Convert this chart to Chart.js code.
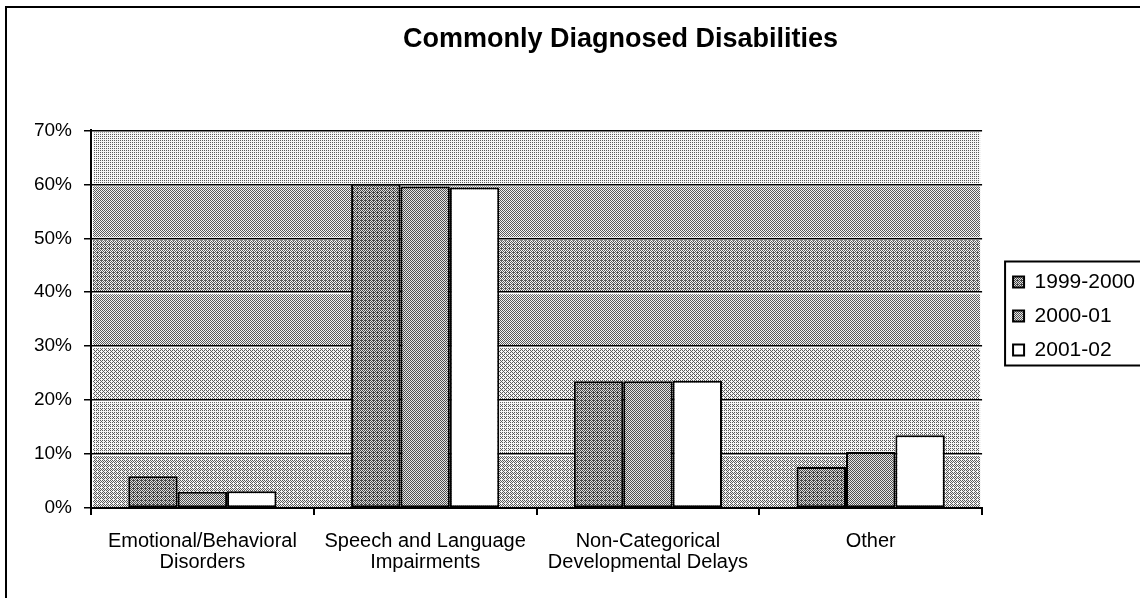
<!DOCTYPE html>
<html>
<head>
<meta charset="utf-8">
<title>Commonly Diagnosed Disabilities</title>
<script src="https://cdn.jsdelivr.net/npm/chart.js@4.4.1/dist/chart.umd.min.js"></script>
<style>
  html, body { margin: 0; padding: 0; background: #fff; }
  #wrap { width: 1140px; height: 598px; }
</style>
</head>
<body>
<div id="wrap"><canvas id="chart" width="1140" height="598"></canvas></div>
<script>
/* ========= DATA ========= */
const categories = [
  ['Emotional/Behavioral', 'Disorders'],
  ['Speech and Language', 'Impairments'],
  ['Non-Categorical', 'Developmental Delays'],
  'Other'
];
const seriesNames = ['1999-2000', '2000-01', '2001-02'];
const values1999 = [5.9, 60.1, 23.5, 7.6];
const values2000 = [3.0, 59.6, 23.5, 10.4];
const values2001 = [3.1, 59.4, 23.6, 13.5];
const yMax = 70;
const yStep = 10;

/* ========= STYLE ========= */
const FONT = 'Liberation Sans, Arial, sans-serif';

// ordered dither so the fills look like the scanned halftone
const BAYER = [[0, 8, 2, 10], [12, 4, 14, 6], [3, 11, 1, 9], [15, 7, 13, 5]];
function dither(level, dark = 90, light = 245) {
  const c = document.createElement('canvas');
  c.width = c.height = 4;
  const g = c.getContext('2d');
  const n = Math.round((light - level) / (light - dark) * 16);
  for (let yy = 0; yy < 4; yy++) {
    for (let xx = 0; xx < 4; xx++) {
      const v = BAYER[yy][xx] < n ? dark : light;
      g.fillStyle = `rgb(${v},${v},${v})`;
      g.fillRect(xx, yy, 1, 1);
    }
  }
  return g.createPattern(c, 'repeat');
}

const barFills = [dither(140, 70, 220), dither(158, 80, 230), '#ffffff'];
// plot-area texture, one grey level per 10% band, bottom to top
const bandLevels = [176, 200, 188, 166, 156, 163, 210];
const bandFills = bandLevels.map(l => dither(l));

/* ========= PLUGINS ========= */
const paper = {
  id: 'paper',
  afterLayout(chart) {
    // title sits right of canvas centre in the original
    const t = chart.titleBlock;
    if (t) { t.left += 57; t.right += 57; }
    // legend sits a bit away from the plot
    const lg = chart.legend;
    const dx = chart.chartArea.right + 18 - lg.left;
    lg.left += dx; lg.right += dx;
    lg.top += 17; lg.bottom += 17;
  },
  beforeDraw(chart) {
    const { ctx, chartArea: a } = chart;
    const y = chart.scales.y;
    ctx.save();
    ctx.fillStyle = '#fff';
    ctx.fillRect(0, 0, chart.width, chart.height);
    for (let i = 0; i < bandFills.length; i++) {
      const top = y.getPixelForValue((i + 1) * yStep);
      const bot = y.getPixelForValue(i * yStep);
      ctx.fillStyle = bandFills[i];
      ctx.fillRect(a.left + 2, top + 2, a.right - a.left - 4, bot - top - 3);
    }
    ctx.restore();
  },
  afterDraw(chart) {
    const { ctx } = chart;
    ctx.save();
    ctx.strokeStyle = '#000';
    ctx.lineWidth = 2;
    // outer frame
    ctx.strokeRect(6, 7, chart.width + 20, chart.height + 20);
    // legend frame
    const hb = chart.legend.legendHitBoxes;
    if (hb && hb.length) {
      const first = hb[0], last = hb[hb.length - 1];
      const l = first.left - 8, t = first.top - 10;
      const b = last.top + last.height + 5;
      ctx.strokeRect(l, t, chart.width - l + 20, b - t);
    }
    ctx.restore();
  }
};

/* ========= CHART ========= */
const ds = (label, data, i) => ({
  label,
  data,
  backgroundColor: barFills[i],
  borderColor: '#000',
  borderWidth: 2,
  borderSkipped: false,
  categoryPercentage: 0.665,
  barPercentage: 1.0
});

new Chart(document.getElementById('chart'), {
  type: 'bar',
  data: {
    labels: categories,
    datasets: [
      ds(seriesNames[0], values1999, 0),
      ds(seriesNames[1], values2000, 1),
      ds(seriesNames[2], values2001, 2)
    ]
  },
  options: {
    responsive: false,
    devicePixelRatio: 1,
    animation: false,
    layout: { padding: { left: 0, right: 13, top: 0, bottom: 0 } },
    plugins: {
      title: {
        display: true,
        text: 'Commonly Diagnosed Disabilities',
        color: '#000',
        font: { family: FONT, size: 27, weight: 'bold', lineHeight: 1.2 },
        padding: { top: 23, bottom: 75 }
      },
      legend: {
        position: 'right',
        labels: {
          color: '#000',
          font: { family: FONT, size: 21 },
          boxWidth: 11,
          boxHeight: 11,
          padding: 13
        }
      },
      tooltip: { enabled: false }
    },
    scales: {
      x: {
        afterFit: s => { s.height = 90; },
        border: { color: '#000', width: 2 },
        grid: { drawOnChartArea: false, color: '#000', lineWidth: 2, tickLength: 7, offset: true },
        ticks: {
          color: '#000',
          padding: 16,
          maxRotation: 0,
          autoSkip: false,
          font: { family: FONT, size: 20, lineHeight: 1.05 }
        }
      },
      y: {
        min: 0,
        max: yMax,
        afterFit: s => { s.width = 91; },
        border: { color: '#000', width: 2 },
        grid: { color: '#000', lineWidth: 1.5, tickLength: 7 },
        ticks: {
          stepSize: yStep,
          color: '#000',
          padding: 12,
          font: { family: FONT, size: 19 },
          callback: v => v + '%'
        }
      }
    }
  },
  plugins: [paper]
});
</script>
</body>
</html>
